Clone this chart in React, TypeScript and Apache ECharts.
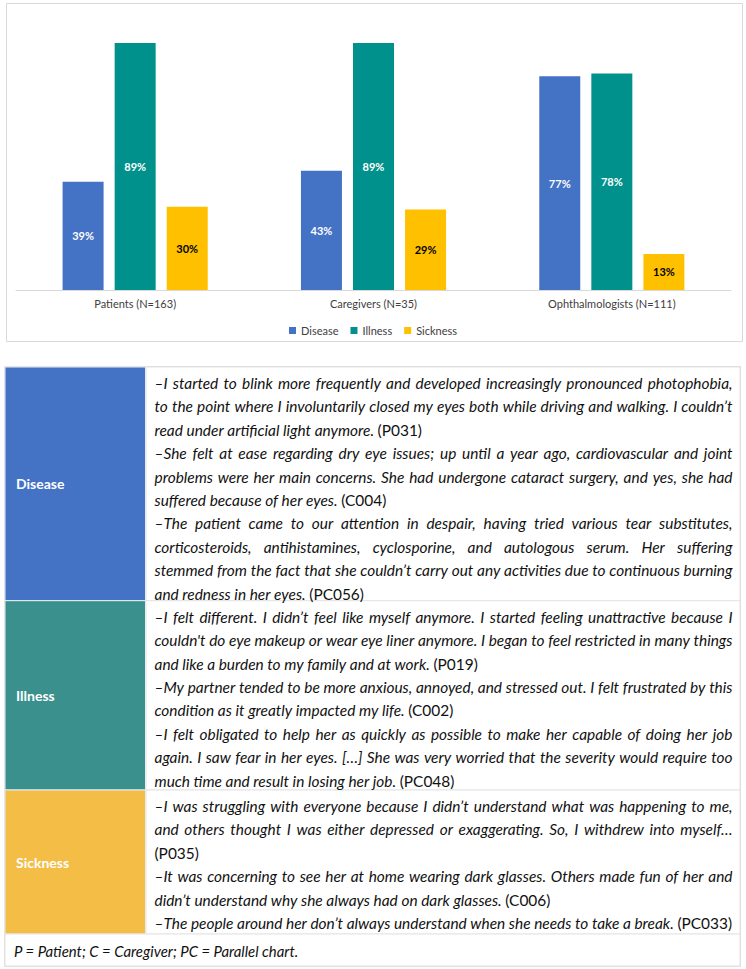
import React, { useEffect, useRef } from "react";
import * as echarts from "echarts";

// ---------- Chart data ----------
const categories = ["Patients (N=163)", "Caregivers (N=35)", "Ophthalmologists (N=111)"];
const seriesNames = ["Disease", "Illness", "Sickness"];
const diseaseValues = [39, 43, 77];
const illnessValues = [89, 89, 78];
const sicknessValues = [30, 29, 13];
const barColors = ["#4472C4", "#00918C", "#FFC000"];
const barLabelColors = ["#FFFFFF", "#FFFFFF", "#000000"];

// ---------- Table data ----------
const tableLabels = ["Disease", "Illness", "Sickness"];
const tableColors = ["#4472C4", "#3A908D", "#F4BD45"];
const diseaseQuotes = [
  [
    "–I started to blink more frequently and developed increasingly pronounced photophobia,",
    "to the point where I involuntarily closed my eyes both while driving and walking. I couldn’t",
    "read under artificial light anymore. (P031)",
  ],
  [
    "–She felt at ease regarding dry eye issues; up until a year ago, cardiovascular and joint",
    "problems were her main concerns. She had undergone cataract surgery, and yes, she had",
    "suffered because of her eyes. (C004)",
  ],
  [
    "–The patient came to our attention in despair, having tried various tear substitutes,",
    "corticosteroids, antihistamines, cyclosporine, and autologous serum. Her suffering",
    "stemmed from the fact that she couldn’t carry out any activities due to continuous burning",
    "and redness in her eyes. (PC056)",
  ],
];
const illnessQuotes = [
  [
    "–I felt different. I didn’t feel like myself anymore. I started feeling unattractive because I",
    "couldn't do eye makeup or wear eye liner anymore. I began to feel restricted in many things",
    "and like a burden to my family and at work. (P019)",
  ],
  [
    "–My partner tended to be more anxious, annoyed, and stressed out. I felt frustrated by this",
    "condition as it greatly impacted my life. (C002)",
  ],
  [
    "–I felt obligated to help her as quickly as possible to make her capable of doing her job",
    "again. I saw fear in her eyes. […] She was very worried that the severity would require too",
    "much time and result in losing her job. (PC048)",
  ],
];
const sicknessQuotes = [
  [
    "–I was struggling with everyone because I didn’t understand what was happening to me,",
    "and others thought I was either depressed or exaggerating. So, I withdrew into myself…",
    "(P035)",
  ],
  [
    "–It was concerning to see her at home wearing dark glasses. Others made fun of her and",
    "didn’t understand why she always had on dark glasses. (C006)",
  ],
  ["–The people around her don’t always understand when she needs to take a break. (PC033)"],
];
const footnote = "P = Patient; C = Caregiver; PC = Parallel chart.";

// ---------- Layout ----------
const FONT = "Lato";
const TABLE_LEFT = 5;
const TABLE_RIGHT = 740;
const LABEL_COL_RIGHT = 145.5;
const ROW_TOPS = [367, 600.7, 790];
const ROW_BOTTOMS = [600.7, 790, 934];
const FOOT_BOTTOM = 966;
const TEXT_X0 = 154.5;
const TEXT_X1 = 732.5;
const LINE_STEP = 23.4;
const FIRST_LINE = 16;

function buildTable(): any[] {
  const els: any[] = [];
  const canvas = document.createElement("canvas");
  const ctx = canvas.getContext("2d") as CanvasRenderingContext2D;
  const meas = (t: string, size: number, italic: boolean) => {
    ctx.font = `${italic ? "italic " : ""}normal ${size}px ${FONT}`;
    return ctx.measureText(t).width;
  };
  const isCite = (w: string) => /^\([A-Z]+\d+\)$/.test(w);
  const textW = TEXT_X1 - TEXT_X0;

  const natural = (line: string, size: number) => {
    const words = line.split(" ");
    let s = 0;
    words.forEach((w) => (s += meas(w, size, !isCite(w))));
    return s + (words.length - 1) * meas(" ", size, true);
  };
  const refLine = sicknessQuotes[2][0];
  let fontSize = (13 * textW) / natural(refLine, 13);
  fontSize = Math.max(11, Math.min(17, fontSize));

  // outer border
  els.push({
    type: "rect",
    silent: true,
    z: 1,
    shape: { x: TABLE_LEFT - 0.5, y: ROW_TOPS[0] - 0.5, width: TABLE_RIGHT - TABLE_LEFT + 1, height: FOOT_BOTTOM - ROW_TOPS[0] + 1 },
    style: { fill: "#FFFFFF", stroke: "#DCDCDC", lineWidth: 1 },
  });

  const allQuotes = [diseaseQuotes, illnessQuotes, sicknessQuotes];
  allQuotes.forEach((quotes, r) => {
    const top = ROW_TOPS[r];
    const bottom = ROW_BOTTOMS[r];
    els.push({
      type: "rect",
      silent: true,
      z: 2,
      shape: { x: TABLE_LEFT, y: top, width: LABEL_COL_RIGHT - TABLE_LEFT, height: bottom - top },
      style: { fill: tableColors[r], stroke: "#E8EEF6", lineWidth: 1 },
    });
    els.push({
      type: "rect",
      silent: true,
      z: 2,
      shape: { x: LABEL_COL_RIGHT + 0.5, y: top, width: TABLE_RIGHT - LABEL_COL_RIGHT - 0.5, height: bottom - top },
      style: { fill: "#FFFFFF", stroke: "#E4E4E4", lineWidth: 1 },
    });
    els.push({
      type: "text",
      silent: true,
      z: 3,
      x: 16,
      y: (top + bottom) / 2,
      style: {
        text: tableLabels[r],
        fill: "#FFFFFF",
        fontSize: 14,
        fontWeight: "bold",
        fontFamily: FONT,
        verticalAlign: "middle",
        align: "left",
      },
    });

    let li = 0;
    quotes.forEach((q) => {
      q.forEach((line, k) => {
        const y = top + FIRST_LINE + li * LINE_STEP;
        const words = line.split(" ");
        const widths = words.map((w) => meas(w, fontSize, !isCite(w)));
        const sum = widths.reduce((a, b) => a + b, 0);
        const justify = k < q.length - 1 && words.length > 1;
        let gap = meas(" ", fontSize, true);
        if (justify) gap = (textW - sum) / (words.length - 1);
        gap = Math.max(gap, fontSize * 0.15);
        let x = TEXT_X0;
        words.forEach((w, wi) => {
          const cite = isCite(w);
          els.push({
            type: "text",
            silent: true,
            z: 3,
            x,
            y,
            style: {
              text: w,
              fill: "#111111",
              fontSize,
              fontStyle: cite ? "normal" : "italic",
              fontFamily: FONT,
              verticalAlign: "middle",
              align: "left",
            },
          });
          x += widths[wi] + gap;
        });
        li++;
      });
    });
  });

  // footer
  els.push({
    type: "rect",
    silent: true,
    z: 2,
    shape: { x: TABLE_LEFT, y: ROW_BOTTOMS[2], width: TABLE_RIGHT - TABLE_LEFT, height: FOOT_BOTTOM - ROW_BOTTOMS[2] },
    style: { fill: "#FFFFFF", stroke: "#E4E4E4", lineWidth: 1 },
  });
  els.push({
    type: "text",
    silent: true,
    z: 3,
    x: 14,
    y: (ROW_BOTTOMS[2] + FOOT_BOTTOM) / 2 + 1,
    style: {
      text: footnote,
      fill: "#111111",
      fontSize: fontSize - 0.5,
      fontStyle: "italic",
      fontFamily: FONT,
      verticalAlign: "middle",
      align: "left",
    },
  });
  return els;
}

export default function App() {
  const ref = useRef<HTMLDivElement>(null);
  useEffect(() => {
    if (!ref.current) return;
    const chart = echarts.init(ref.current, undefined, { renderer: "svg" });
    const valueSets = [diseaseValues, illnessValues, sicknessValues];
    const option: any = {
      animation: false,
      backgroundColor: "#FFFFFF",
      textStyle: { fontFamily: FONT },
      grid: { left: 16, right: 15, top: 12.5, bottom: 969 - 290, containLabel: false },
      legend: {
        data: seriesNames,
        top: 320,
        left: "center",
        icon: "rect",
        itemWidth: 7,
        itemHeight: 7,
        itemGap: 12,
        textStyle: { fontSize: 11, color: "#404040", fontFamily: FONT },
      },
      xAxis: {
        type: "category",
        data: categories,
        axisLine: { lineStyle: { color: "#D9D9D9", width: 1 } },
        axisTick: { show: false },
        axisLabel: { fontSize: 11, color: "#404040", margin: 8, fontFamily: FONT },
      },
      yAxis: {
        type: "value",
        min: 0,
        max: 100,
        show: false,
        splitLine: { show: false },
      },
      series: seriesNames.map((name, i) => ({
        name,
        type: "bar",
        data: valueSets[i],
        barWidth: 41,
        barGap: "27%",
        itemStyle: { color: barColors[i] },
        label: {
          show: true,
          position: "inside",
          formatter: "{c}%",
          color: barLabelColors[i],
          fontSize: 11,
          fontWeight: "bold",
          fontFamily: FONT,
        },
      })),
      graphic: [
        {
          type: "rect",
          silent: true,
          z: -1,
          shape: { x: 6.5, y: 3.5, width: 736, height: 338 },
          style: { fill: "none", stroke: "#D9D9D9", lineWidth: 1 },
        },
        ...buildTable(),
      ],
    };
    chart.setOption(option);
    return () => chart.dispose();
  }, []);
  return (
    <div
      ref={ref}
      style={{ position: "absolute", left: 0, top: 0, width: 746, height: 969, background: "#FFFFFF" }}
    />
  );
}
